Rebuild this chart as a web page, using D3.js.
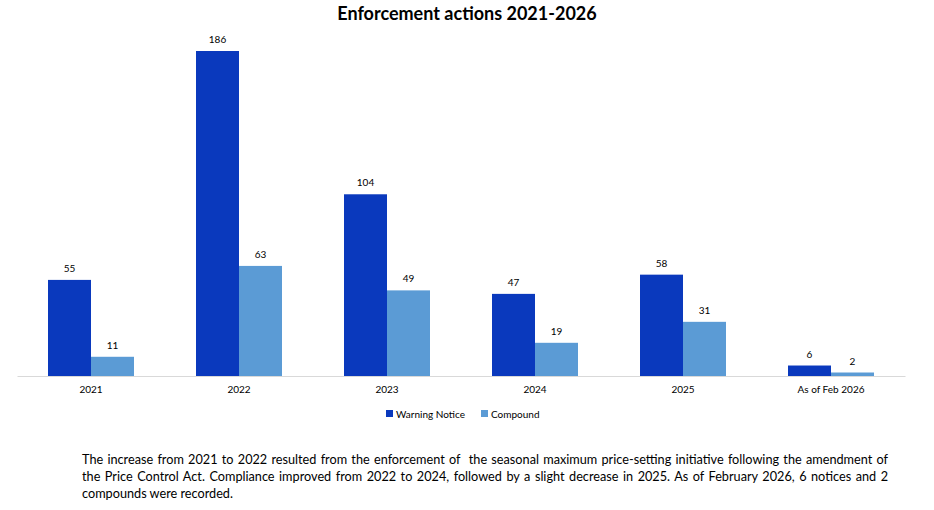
<!DOCTYPE html>
<html lang="en">
<head>
<meta charset="UTF-8">
<title>Enforcement actions 2021-2026</title>
<script src="https://cdn.jsdelivr.net/npm/d3@7"></script>
<style>
  body { margin: 0; background: #fff; font-family: Lato, "Open Sans", sans-serif; }
  #wrap { position: relative; width: 934px; height: 510px; }
  #note {
    position: absolute; left: 82px; top: 451px; width: 806px;
    font-size: 12.7px; line-height: 17px; text-align: justify; color: #000;
  }
</style>
</head>
<body>
<div id="wrap">
  <div id="note">The increase from 2021 to 2022 resulted from the enforcement of &nbsp;the seasonal maximum price-setting initiative following the amendment of the Price Control Act. Compliance improved from 2022 to 2024, followed by a slight decrease in 2025. As of February 2026, 6 notices and 2 compounds were recorded.</div>
</div>
<script>
// chart data
var categories = ["2021", "2022", "2023", "2024", "2025", "As of Feb 2026"];
var warning = [55, 186, 104, 47, 58, 6];
var compound = [11, 63, 49, 19, 31, 2];
var seriesNames = ["Warning Notice", "Compound"];
var colors = ["#0a39bd", "#5b9bd5"];

var w = 934, h = 510;
var svg = d3.select("#wrap").insert("svg", ":first-child")
    .attr("width", w).attr("height", h)
    .style("position", "absolute").style("left", 0).style("top", 0);

// title
svg.append("text")
    .attr("x", 467).attr("y", 20)
    .attr("text-anchor", "middle")
    .style("font-size", "18px").style("font-weight", "bold")
    .text("Enforcement actions 2021-2026");

var x0 = d3.scaleBand().domain(categories).range([17, 905]).paddingInner(0).paddingOuter(0);
var x1 = d3.scaleBand().domain(seriesNames).range([0, 86]);
var y = d3.scaleLinear().domain([0, 186]).range([376, 51]);

var rows = categories.map(function(c, i) {
    return { cat: c, vals: [warning[i], compound[i]] };
});

var groups = svg.selectAll("g.grp")
    .data(rows).enter().append("g")
    .attr("class", "grp")
    .attr("transform", function(d) { return "translate(" + (x0(d.cat) + x0.bandwidth() / 2 - 43) + ",0)"; });

groups.selectAll("rect")
    .data(function(d) { return d.vals.map(function(v, i) { return { s: seriesNames[i], v: v, i: i }; }); })
    .enter().append("rect")
    .attr("x", function(d) { return x1(d.s); })
    .attr("width", x1.bandwidth())
    .attr("y", function(d) { return y(d.v); })
    .attr("height", function(d) { return y(0) - y(d.v); })
    .attr("fill", function(d) { return colors[d.i]; });

groups.selectAll("text.lbl")
    .data(function(d) { return d.vals.map(function(v, i) { return { s: seriesNames[i], v: v }; }); })
    .enter().append("text")
    .attr("class", "lbl")
    .attr("x", function(d) { return x1(d.s) + x1.bandwidth() / 2; })
    .attr("y", function(d) { return y(d.v) - 8; })
    .attr("text-anchor", "middle")
    .style("font-size", "10px")
    .text(function(d) { return d.v; });

// x axis
var xAxis = svg.append("g")
    .attr("transform", "translate(0,376)")
    .call(d3.axisBottom(x0).tickSize(0).tickPadding(10));
xAxis.select(".domain").attr("stroke", "#d9d9d9").attr("stroke-width", 1);
xAxis.selectAll("text").style("font-size", "10px").style("font-family", "Lato, 'Open Sans', sans-serif").attr("fill", "#000");

// legend
var legX = [386, 481];
var leg = svg.selectAll("g.leg").data(seriesNames).enter().append("g")
    .attr("class", "leg")
    .attr("transform", function(d, i) { return "translate(" + legX[i] + ",410)"; });
leg.append("rect").attr("width", 7).attr("height", 7).attr("fill", function(d, i) { return colors[i]; });
leg.append("text").attr("x", 10).attr("y", 7.5)
    .style("font-size", "10px").text(function(d) { return d; });
</script>
</body>
</html>
